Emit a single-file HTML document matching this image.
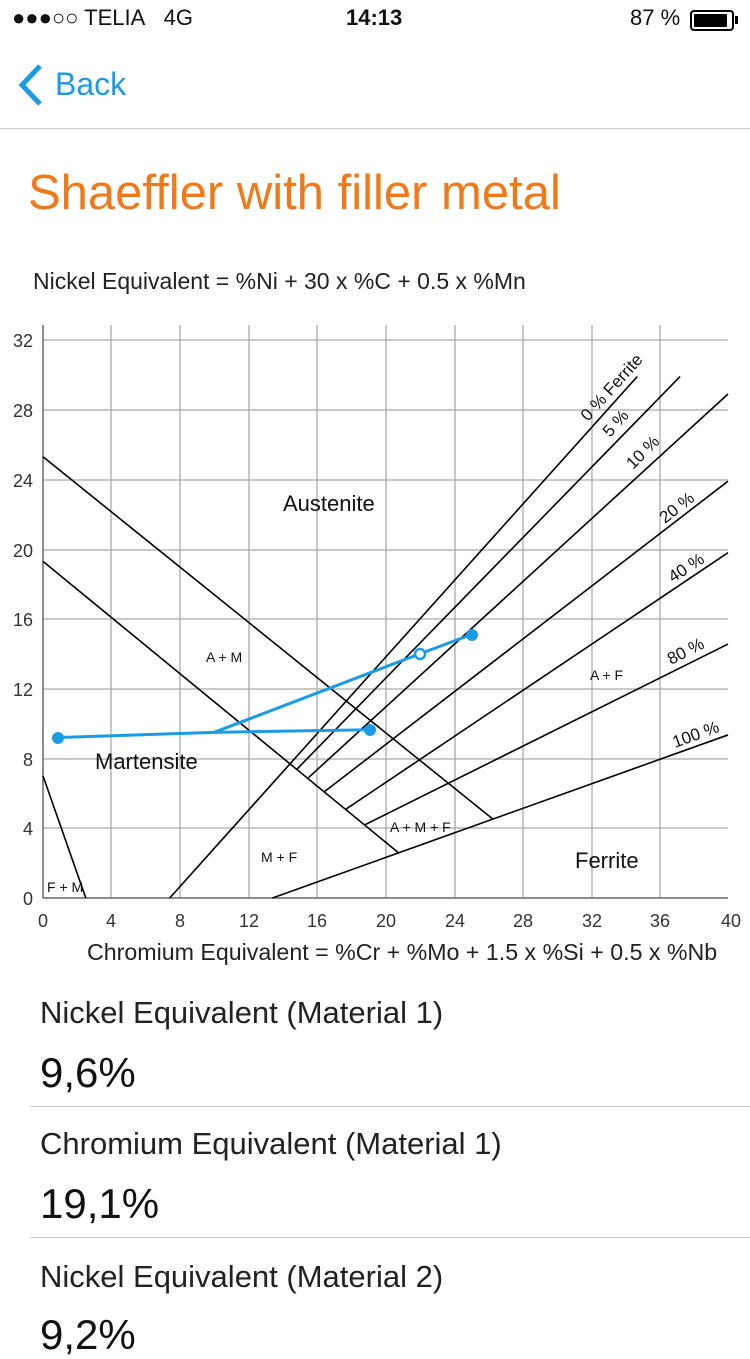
<!DOCTYPE html>
<html><head><meta charset="utf-8"><style>
body{margin:0;width:750px;height:1334px;overflow:hidden;background:#fff;font-family:"Liberation Sans",sans-serif;position:relative;color:#111}
.a{position:absolute;white-space:nowrap}
</style></head><body>
<div class="a" style="left:12px;top:5px;font-size:22px;">●●●○○ TELIA&nbsp;&nbsp; 4G</div>
<div class="a" style="left:346px;top:5px;font-size:22px;font-weight:bold">14:13</div>
<div class="a" style="left:630px;top:5px;font-size:22px;">87 %</div>
<div class="a" style="left:690px;top:10px;width:40px;height:17px;border:2px solid #000;border-radius:4px;"><div style="margin:2px;width:33px;height:13px;background:#000;border-radius:1px"></div></div>
<div class="a" style="left:735px;top:16px;width:3px;height:8px;background:#000"></div>
<svg class="a" style="left:14px;top:62px" width="32" height="46"><polyline points="26,4 8,23 26,42" fill="none" stroke="#1a9be6" stroke-width="5"/></svg>
<div class="a" style="left:55px;top:66px;font-size:32px;color:#1a9be6">Back</div>
<div class="a" style="left:0;top:128px;width:750px;height:1px;background:#ccc"></div>
<div class="a" style="left:28px;top:165px;font-size:49px;color:#f07a1a">Shaeffler with filler metal</div>
<div class="a" style="left:33px;top:268px;font-size:23px;color:#222">Nickel Equivalent = %Ni + 30 x %C + 0.5 x %Mn</div>
<svg class="a" style="left:0;top:0" width="750" height="960">
<g stroke="#aaa" stroke-width="1.3">
<line x1="111" y1="325" x2="111" y2="898"/><line x1="180" y1="325" x2="180" y2="898"/><line x1="249" y1="325" x2="249" y2="898"/><line x1="317" y1="325" x2="317" y2="898"/><line x1="386" y1="325" x2="386" y2="898"/><line x1="455" y1="325" x2="455" y2="898"/><line x1="523" y1="325" x2="523" y2="898"/><line x1="592" y1="325" x2="592" y2="898"/><line x1="660" y1="325" x2="660" y2="898"/>
<line x1="43" y1="340" x2="728" y2="340"/><line x1="43" y1="410" x2="728" y2="410"/><line x1="43" y1="480" x2="728" y2="480"/><line x1="43" y1="550" x2="728" y2="550"/><line x1="43" y1="619" x2="728" y2="619"/><line x1="43" y1="689" x2="728" y2="689"/><line x1="43" y1="759" x2="728" y2="759"/><line x1="43" y1="828" x2="728" y2="828"/>
</g>
<line x1="43" y1="325" x2="43" y2="898" stroke="#666" stroke-width="1.5"/>
<line x1="43" y1="898" x2="728" y2="898" stroke="#666" stroke-width="1.5"/>
<g transform="translate(43,898) scale(17.125,-17.44)" stroke="#000" stroke-width="1.6" fill="none">
<line x1="0" y1="25.3" x2="26.3" y2="4.5" vector-effect="non-scaling-stroke"/>
<line x1="0" y1="19.3" x2="20.8" y2="2.56" vector-effect="non-scaling-stroke"/>
<line x1="0" y1="7" x2="2.5" y2="0" vector-effect="non-scaling-stroke"/>
<line x1="7.4" y1="0" x2="34.7" y2="29.9" vector-effect="non-scaling-stroke"/>
<line x1="14.8" y1="7.36" x2="37.2" y2="29.9" vector-effect="non-scaling-stroke"/>
<line x1="15.5" y1="6.9" x2="40" y2="28.9" vector-effect="non-scaling-stroke"/>
<line x1="16.4" y1="6.07" x2="40" y2="23.9" vector-effect="non-scaling-stroke"/>
<line x1="17.7" y1="5.1" x2="40" y2="19.8" vector-effect="non-scaling-stroke"/>
<line x1="18.8" y1="4.2" x2="40" y2="14.56" vector-effect="non-scaling-stroke"/>
<line x1="13.4" y1="0" x2="40" y2="9.35" vector-effect="non-scaling-stroke"/>
<polyline points="0.9,9.2 10,9.5 19.1,9.65" stroke="#1a9be6" stroke-width="3" vector-effect="non-scaling-stroke"/>
<polyline points="10,9.5 22,14 25,15.1" stroke="#1a9be6" stroke-width="3" vector-effect="non-scaling-stroke"/>
</g>
<circle cx="58" cy="738" r="6" fill="#1a9be6"/>
<circle cx="370" cy="730" r="6" fill="#1a9be6"/>
<circle cx="472" cy="635" r="6" fill="#1a9be6"/>
<circle cx="420" cy="654" r="5" fill="#fff" stroke="#1a9be6" stroke-width="2.5"/>
<g font-family="Liberation Sans" font-size="18" fill="#333" text-anchor="end">
<text x="33" y="347">32</text><text x="33" y="417">28</text><text x="33" y="487">24</text><text x="33" y="557">20</text><text x="33" y="626">16</text><text x="33" y="696">12</text><text x="33" y="766">8</text><text x="33" y="835">4</text><text x="33" y="905">0</text>
</g>
<g font-family="Liberation Sans" font-size="18" fill="#333" text-anchor="middle">
<text x="43" y="927">0</text><text x="111" y="927">4</text><text x="180" y="927">8</text><text x="249" y="927">12</text><text x="317" y="927">16</text><text x="386" y="927">20</text><text x="455" y="927">24</text><text x="523" y="927">28</text><text x="592" y="927">32</text><text x="660" y="927">36</text><text x="731" y="927">40</text>
</g>
<g font-family="Liberation Sans" fill="#111">
<text x="283" y="511" font-size="22">Austenite</text>
<text x="95" y="769" font-size="22">Martensite</text>
<text x="575" y="868" font-size="22">Ferrite</text>
<text x="206" y="662" font-size="14">A + M</text>
<text x="590" y="680" font-size="14">A + F</text>
<text x="390" y="832" font-size="14">A + M + F</text>
<text x="261" y="862" font-size="14">M + F</text>
<text x="47" y="892" font-size="14">F + M</text>
<g font-size="17">
<text transform="translate(588,422) rotate(-48)">0 % Ferrite</text>
<text transform="translate(610,438) rotate(-48)">5 %</text>
<text transform="translate(633,470) rotate(-45)">10 %</text>
<text transform="translate(665,524) rotate(-38)">20 %</text>
<text transform="translate(673,583) rotate(-33)">40 %</text>
<text transform="translate(671,665) rotate(-27)">80 %</text>
<text transform="translate(675,748) rotate(-20)">100 %</text>
</g>
</g>
</svg>
<div class="a" style="left:87px;top:939px;font-size:23.2px;color:#222">Chromium Equivalent = %Cr + %Mo + 1.5 x %Si + 0.5 x %Nb</div>
<div class="a" style="left:40px;top:995px;font-size:31px;color:#222">Nickel Equivalent (Material 1)</div>
<div class="a" style="left:40px;top:1049px;font-size:42px;color:#111">9,6%</div>
<div class="a" style="left:30px;top:1106px;width:720px;height:1px;background:#ccc"></div>
<div class="a" style="left:40px;top:1126px;font-size:31px;color:#222">Chromium Equivalent (Material 1)</div>
<div class="a" style="left:40px;top:1180px;font-size:42px;color:#111">19,1%</div>
<div class="a" style="left:30px;top:1237px;width:720px;height:1px;background:#ccc"></div>
<div class="a" style="left:40px;top:1259px;font-size:31px;color:#222">Nickel Equivalent (Material 2)</div>
<div class="a" style="left:40px;top:1311px;font-size:42px;color:#111">9,2%</div>
</body></html>
